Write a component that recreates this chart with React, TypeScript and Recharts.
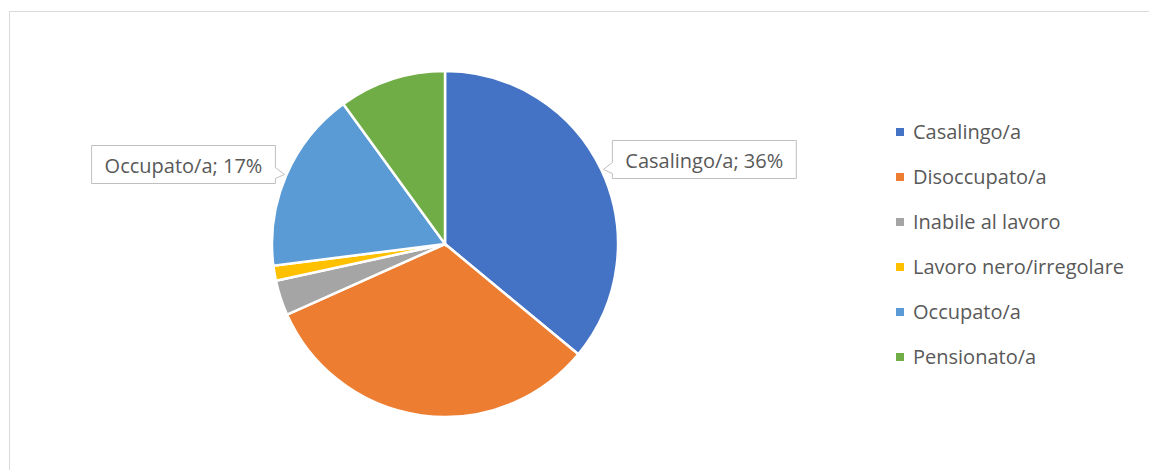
import { useLayoutEffect, useRef, useState } from 'react';
import { PieChart, Pie, Cell, Legend } from 'recharts';

const categories = [
  'Casalingo/a',
  'Disoccupato/a',
  'Inabile al lavoro',
  'Lavoro nero/irregolare',
  'Occupato/a',
  'Pensionato/a',
];
const shares = [36, 32.3, 3.3, 1.4, 17, 10];
const colors = ['#4472C4', '#ED7D31', '#A5A5A5', '#FFC000', '#5B9BD5', '#70AD47'];
// only these slices carry a data label in the original
const labelled = ['Casalingo/a', 'Occupato/a'];

const data = categories.map((name, i) => ({ name, value: shares[i], fill: colors[i] }));

const FONT = '"Open Sans", "Noto Sans", sans-serif';
const FONT_SIZE = 20;
const TEXT = '#595959';
const RADIAN = Math.PI / 180;

function Callout({ tipX, tipY, side, text }: { tipX: number; tipY: number; side: 'left' | 'right'; text: string }) {
  const ref = useRef<SVGTextElement>(null);
  const [w, setW] = useState(166);
  useLayoutEffect(() => {
    if (ref.current) setW(ref.current.getComputedTextLength());
  }, [text]);

  const boxW = w + 26;
  const boxH = 38;
  const bottom = tipY + 9;
  const top = bottom - boxH;
  const gap = 9;
  const left = side === 'right' ? tipX + gap : tipX - gap - boxW;
  const right = left + boxW;

  // box with a small pointer on the side that faces the slice
  const d =
    side === 'right'
      ? `M${left},${top} H${right} V${bottom} H${left} V${bottom - 5} L${tipX},${tipY} L${left},${bottom - 16} Z`
      : `M${left},${top} H${right} V${bottom - 16} L${tipX},${tipY} L${right},${bottom - 5} V${bottom} H${left} Z`;

  return (
    <g>
      <path d={d} fill="#fff" stroke="#BFBFBF" strokeWidth={1} />
      <text
        ref={ref}
        x={left + boxW / 2}
        y={top + boxH / 2 + 1}
        textAnchor="middle"
        dominantBaseline="central"
        fontFamily={FONT}
        fontSize={FONT_SIZE}
        fill={TEXT}
      >
        {text}
      </text>
    </g>
  );
}

const renderLabel = (props: any) => {
  const { cx, cy, midAngle, outerRadius, percent, name } = props;
  if (!labelled.includes(name)) return null;
  const r = outerRadius + 2;
  const tipX = cx + r * Math.cos(-midAngle * RADIAN);
  const tipY = cy + r * Math.sin(-midAngle * RADIAN);
  const side = tipX >= cx ? 'right' : 'left';
  return <Callout tipX={tipX} tipY={tipY} side={side} text={`${name}; ${Math.round(percent * 100)}%`} />;
};

const renderLegend = () => (
  <div style={{ fontFamily: FONT, fontSize: FONT_SIZE, color: TEXT }}>
    {data.map((d) => (
      <div key={d.name} style={{ height: 45, whiteSpace: 'nowrap', display: 'flex', alignItems: 'center' }}>
        <span style={{ display: 'inline-block', width: 8, height: 8, background: d.fill, marginRight: 9 }} />
        <span>{d.name}</span>
      </div>
    ))}
  </div>
);

export default function App() {
  return (
    <div style={{ position: 'fixed', top: 0, left: 0, width: 1149, height: 470, overflow: 'hidden', background: '#fff' }}>
      <div
        style={{
          position: 'absolute',
          left: 9,
          top: 11,
          width: 1160,
          height: 480,
          border: '1px solid #D9D9D9',
          boxSizing: 'border-box',
        }}
      />
      <div style={{ position: 'absolute', left: 0, top: 0 }}>
        <PieChart width={1149} height={470} margin={{ top: 0, right: 0, bottom: 0, left: 0 }}>
          <Pie
            data={data}
            dataKey="value"
            nameKey="name"
            cx={445}
            cy={244}
            outerRadius={173}
            startAngle={90}
            endAngle={-270}
            stroke="#fff"
            strokeWidth={2.5}
            label={renderLabel}
            labelLine={false}
            isAnimationActive={false}
          >
            {data.map((d) => (
              <Cell key={d.name} fill={d.fill} />
            ))}
          </Pie>
          <Legend
            content={renderLegend}
            wrapperStyle={{ position: 'absolute', left: 896, top: 109, width: 250 }}
          />
        </PieChart>
      </div>
    </div>
  );
}
